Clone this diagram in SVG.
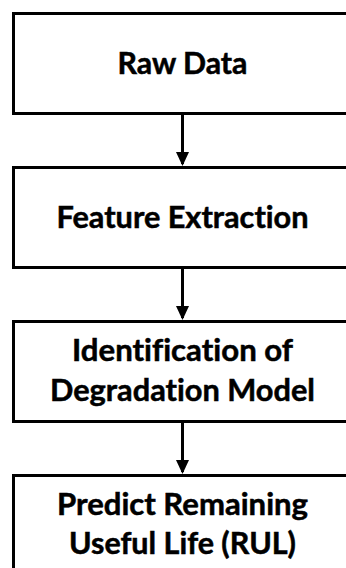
<svg xmlns="http://www.w3.org/2000/svg" width="346" height="568" viewBox="0 0 346 568">
  <style>
    .box { fill: #ffffff; stroke: #000000; stroke-width: 3; }
    .label { font-family: Lato, "Open Sans", "Liberation Sans", sans-serif; font-weight: bold; font-size: 29.5px; fill: #000000; stroke: #000000; stroke-width: 0.5; text-anchor: middle; font-variant-ligatures: none; font-feature-settings: "liga" 0, "clig" 0; }
    .link { stroke: #000000; stroke-width: 3; fill: none; marker-end: url(#arrow); }
  </style>
  <defs>
    <marker id="arrow" markerUnits="userSpaceOnUse" markerWidth="14" markerHeight="13" refX="12" refY="6.5" orient="auto">
      <path d="M0,0 L14,6.5 L0,13 Z" fill="#000000"/>
    </marker>
  </defs>
  <rect width="346" height="568" fill="#ffffff"/>

  <g id="raw-data">
    <rect class="box" x="13.5" y="13.5" width="340" height="100"/>
    <text class="label" x="182.5" y="73.5" textLength="130" lengthAdjust="spacingAndGlyphs">Raw Data</text>
  </g>

  <g id="feature-extraction">
    <rect class="box" x="13.5" y="167.5" width="340" height="100"/>
    <text class="label" x="182.5" y="227.5" textLength="252" lengthAdjust="spacingAndGlyphs">Feature Extraction</text>
  </g>

  <g id="degradation-model">
    <rect class="box" x="13.5" y="321.5" width="340" height="100"/>
    <text class="label" x="182.5" y="360.5" textLength="221" lengthAdjust="spacingAndGlyphs">Identification of</text>
    <text class="label" x="182.5" y="400.5" textLength="265" lengthAdjust="spacingAndGlyphs">Degradation Model</text>
  </g>

  <g id="predict-rul">
    <rect class="box" x="13.5" y="475.5" width="340" height="100"/>
    <text class="label" x="182.5" y="514.5" textLength="251" lengthAdjust="spacingAndGlyphs">Predict Remaining</text>
    <text class="label" x="182.5" y="553.5" textLength="227" lengthAdjust="spacingAndGlyphs">Useful Life (RUL)</text>
  </g>

  <g id="connectors">
    <line class="link" x1="182.5" y1="115" x2="182.5" y2="164"/>
    <line class="link" x1="182.5" y1="269" x2="182.5" y2="318"/>
    <line class="link" x1="182.5" y1="423" x2="182.5" y2="472"/>
  </g>
</svg>
